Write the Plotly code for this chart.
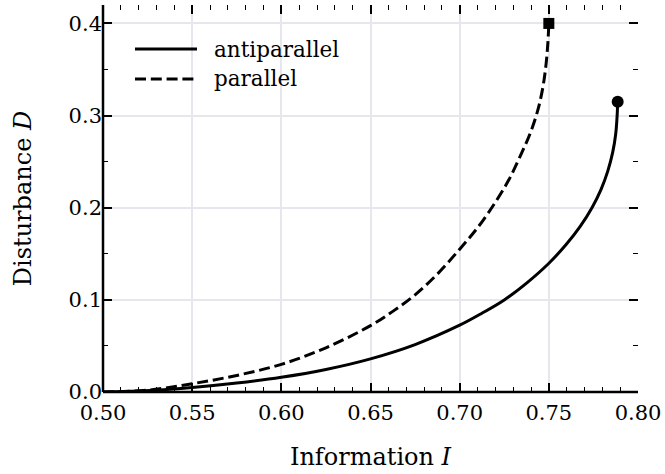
import plotly.graph_objects as go

# Antiparallel (solid) curve
anti_I = [0.500, 0.520, 0.550, 0.575, 0.600, 0.625, 0.650, 0.675, 0.700, 0.7125,
          0.725, 0.7377, 0.7499, 0.7597, 0.7677, 0.7742, 0.7793, 0.7831, 0.7858,
          0.7875, 0.7883, 0.7886]
anti_D = [0.000, 0.001, 0.0049, 0.0097, 0.016, 0.0245, 0.036, 0.0515, 0.0725, 0.0855,
          0.0999, 0.1185, 0.1395, 0.160, 0.180, 0.200, 0.220, 0.240, 0.260,
          0.280, 0.300, 0.315]

# Parallel (dashed) curve
par_I = [0.500, 0.525, 0.550, 0.575, 0.600, 0.625, 0.650, 0.6625, 0.675, 0.6875,
         0.7000, 0.7107, 0.7197, 0.7275, 0.7337, 0.7394, 0.7437, 0.7466, 0.7484,
         0.7495, 0.7500]
par_D = [0.000, 0.002, 0.009, 0.018, 0.030, 0.048, 0.072, 0.0875, 0.1055, 0.128,
         0.155, 0.180, 0.205, 0.230, 0.255, 0.280, 0.305, 0.330, 0.355,
         0.380, 0.400]

legend_names = ["antiparallel", "parallel"]
x_title = "Information <i>I</i>"
y_title = "Disturbance <i>D</i>"
x_ticks = [0.50, 0.55, 0.60, 0.65, 0.70, 0.75, 0.80]
y_ticks = [0.0, 0.1, 0.2, 0.3, 0.4]

FONT = "DejaVu Serif"
TICK_FS = 21
LEG_FS = 21.5
TITLE_FS = 24
LW = 3
DASH = "11px,4.8px"

fig = go.Figure()
fig.add_trace(go.Scatter(x=anti_I, y=anti_D, mode="lines",
                         line=dict(color="black", width=LW, shape="spline", smoothing=1.0),
                         name=legend_names[0], showlegend=False, hoverinfo="skip"))
fig.add_trace(go.Scatter(x=par_I, y=par_D, mode="lines",
                         line=dict(color="black", width=LW, dash=DASH, shape="spline", smoothing=1.0),
                         name=legend_names[1], showlegend=False, hoverinfo="skip"))
fig.add_trace(go.Scatter(x=[anti_I[-1]], y=[anti_D[-1]], mode="markers",
                         marker=dict(symbol="circle", size=12, color="black"), showlegend=False,
                         hoverinfo="skip"))
fig.add_trace(go.Scatter(x=[par_I[-1]], y=[par_D[-1]], mode="markers",
                         marker=dict(symbol="square", size=11, color="black"), showlegend=False,
                         hoverinfo="skip"))

# Spines (left & bottom)
fig.add_shape(type="line", xref="paper", yref="paper", x0=0, x1=0, y0=0, y1=1,
              line=dict(color="black", width=2.5))
fig.add_shape(type="line", xref="paper", yref="paper", x0=0, x1=1, y0=0, y1=0,
              line=dict(color="black", width=2.5))

# Manual legend (matplotlib-like long handles)
leg_y = [0.886, 0.809]
for i, name in enumerate(legend_names):
    fig.add_shape(type="line", xref="paper", yref="paper", x0=0.0598, x1=0.1757, y0=leg_y[i], y1=leg_y[i],
                  line=dict(color="black", width=LW, dash=None if i == 0 else DASH))
    fig.add_annotation(xref="paper", yref="paper", x=0.2075, y=leg_y[i], text=name, showarrow=False,
                       xanchor="left", yanchor="middle", xshift=-2,
                       font=dict(family=FONT, size=LEG_FS, color="black"))

axis_common = dict(
    ticks="inside", mirror="ticks", showline=False, tickcolor="black",
    showgrid=True, gridcolor="#e6e6ec", gridwidth=1.5, zeroline=False, automargin=False,
    tickfont=dict(family=FONT, size=TICK_FS, color="black"),
    ticklen=9, tickwidth=2,
)

fig.update_xaxes(range=[0.5, 0.8], tickvals=x_ticks, ticktext=[f"{v:.2f}" for v in x_ticks],
                 ticklabelstandoff=6,
                 minor=dict(ticks="inside", dtick=0.01, tick0=0.5, ticklen=5, tickwidth=1.2,
                            tickcolor="black", showgrid=False),
                 title=dict(text=x_title, font=dict(family=FONT, size=TITLE_FS, color="black"), standoff=24),
                 **axis_common)
fig.update_yaxes(range=[0, 0.42], tickvals=y_ticks, ticktext=[f"{v:.1f}" for v in y_ticks],
                 minor=dict(ticks="inside", dtick=0.05, tick0=0, ticklen=5, tickwidth=1.2,
                            tickcolor="black", showgrid=False),
                 title=dict(text=y_title, font=dict(family=FONT, size=TITLE_FS, color="black"), standoff=30),
                 **axis_common)

fig.update_layout(
    width=665, height=474,
    margin=dict(l=103, r=27, t=5, b=82),
    paper_bgcolor="white", plot_bgcolor="white",
    font=dict(family=FONT, size=TICK_FS, color="black"),
    showlegend=False,
    hovermode=False,
)

fig.write_html("out.html", config={"displayModeBar": False},
               post_script="document.body.style.margin='0';document.body.style.padding='0';")
